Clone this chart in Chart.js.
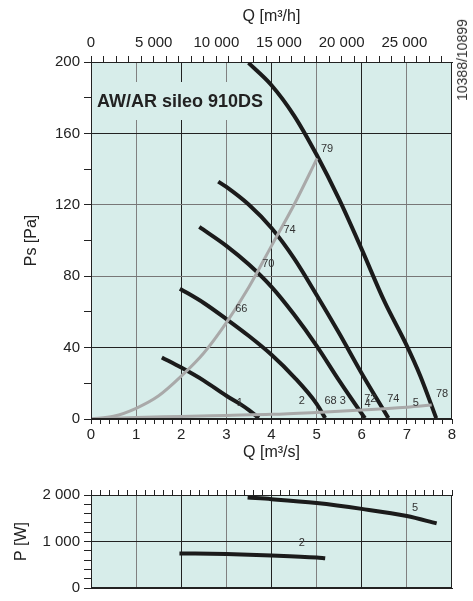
<!DOCTYPE html>
<html>
<head>
<meta charset="utf-8">
<script src="https://cdn.jsdelivr.net/npm/chart.js@4.4.1/dist/chart.umd.min.js"></script>
<style>
  body { margin: 0; background: #fff; width: 473px; height: 601px; position: relative; overflow: hidden; font-family: 'Liberation Sans', Arial, sans-serif; }
  #top { position: absolute; left: 0; top: 0; }
  #bottom { position: absolute; left: 0; top: 470px; }
  #code { position: absolute; left: 462px; top: 60px; transform: translate(-50%, -50%) rotate(-90deg); font-size: 14px; color: #333; white-space: nowrap; }
</style>
</head>
<body>
<canvas id="top" width="473" height="470"></canvas>
<canvas id="bottom" width="473" height="131"></canvas>
<div id="code">10388/10899</div>
<script>
// fan curves, Ps [Pa] against Q [m3/s]
const q1 = [1.57, 2.0, 2.5, 3.0, 3.3, 3.5, 3.72];
const ps1 = [34.5, 28.8, 21.5, 13, 8.5, 5, 0.5];
const q2 = [1.97, 2.5, 3.0, 3.5, 4.0, 4.5, 5.0, 5.19];
const ps2 = [73, 65, 56, 46.5, 36, 23.5, 8.5, 0.5];
const q3 = [2.4, 3.0, 3.5, 4.0, 4.5, 5.0, 5.5, 6.0, 6.07];
const ps3 = [107.6, 97, 86.5, 74, 58.5, 41, 21.5, 3, 0.5];
const q4 = [2.82, 3.0, 3.5, 4.0, 4.5, 5.0, 5.5, 6.0, 6.59];
const ps4 = [133, 130, 120, 107, 90, 69.5, 48, 25.5, 0.5];
const q5 = [3.49, 4.0, 4.5, 5.0, 5.5, 6.0, 6.5, 7.0, 7.3, 7.65];
const ps5 = [199.5, 187, 170, 148, 123, 95, 66, 41, 24, 0.5];

// grey system curves
const qSysHigh = [0, 0.5, 1, 1.5, 2, 2.5, 3, 3.5, 4, 4.5, 5.01];
const psSysHigh = [0, 1.5, 6, 13, 24, 37, 54, 74, 97, 120, 146];
const qSysLow = [0, 1, 2, 3, 4, 5, 6, 7, 7.55];
const psSysLow = [0, 0.9, 1.4, 2, 2.6, 3.7, 5, 6.6, 7.8];

// power curves, P [W]
const qPow2 = [1.96, 3, 4, 5, 5.19];
const pow2 = [744, 729, 700, 656, 640];
const qPow5 = [3.47, 4, 5, 6, 7, 7.66];
const pow5 = [1944, 1910, 1827, 1702, 1548, 1390];

// curve labels
const labelText = ['79', '74', '70', '66', '1', '2', '68 3', '72', '4', '74', '5', '78'];
const labelQ = [5.23, 4.40, 3.93, 3.33, 3.30, 4.67, 5.41, 6.19, 6.13, 6.70, 7.20, 7.78];
const labelPs = [151, 106, 87, 61.5, 9, 10, 10, 11.5, 8.5, 11.5, 9, 14];
const powLabelText = ['5', '2'];
const powLabelQ = [7.18, 4.67];
const powLabelP = [1723, 958];

// top axis in m3/h: a tick every 1 000, a label every 5 000
const flowHourTicks = Array.from({ length: 29 }, (_, i) => i * 1000);
const flowHourMax = 28800;

const title = 'AW/AR sileo 910DS';

Chart.defaults.font.family = "'Liberation Sans', Arial, sans-serif";
Chart.defaults.color = '#222';

const plotBg = '#d7edea';
const dark = '#222';
const grey = '#808080';

const toPts = (xs, ys) => xs.map((x, i) => ({ x: x, y: ys[i] }));
const isWhole = v => Math.abs(v - Math.round(v)) < 1e-6;
const fmt = v => String(v).replace(/\B(?=(\d{3})+(?!\d))/g, ' ');

function gridX(ctx) {
    const v = ctx.tick.value;
    if (!isWhole(v) || v <= 0 || v >= 8) return 'transparent';
    return Math.round(v) % 2 === 1 ? grey : dark;
}

function curve(xs, ys, color, width) {
    return {
        data: toPts(xs, ys),
        borderColor: color,
        borderWidth: width,
        pointRadius: 0,
        tension: 0.4,
        cubicInterpolationMode: 'monotone',
        fill: false
    };
}

const decor = {
    id: 'decor',
    beforeDraw(chart) {
        const a = chart.chartArea, c = chart.ctx;
        c.save();
        c.fillStyle = plotBg;
        c.fillRect(a.left, a.top, a.right - a.left, a.bottom - a.top);
        c.restore();
    },
    beforeDatasetsDraw(chart, args, opts) {
        if (!opts.title) return;
        const a = chart.chartArea, c = chart.ctx;
        c.save();
        c.font = 'bold 18px "Liberation Sans", Arial, sans-serif';
        const w = c.measureText(opts.title).width;
        c.fillStyle = plotBg;
        c.fillRect(a.left + 1, a.top + 20, w + 12, 38);
        c.fillStyle = dark;
        c.textBaseline = 'middle';
        c.fillText(opts.title, a.left + 6, a.top + 40);
        c.restore();
    },
    afterDatasetsDraw(chart, args, opts) {
        const a = chart.chartArea, c = chart.ctx;
        c.save();
        c.strokeStyle = dark;
        c.lineWidth = 1;
        c.strokeRect(a.left + 0.5, a.top + 0.5, a.right - a.left - 1, a.bottom - a.top - 1);
        c.font = '11px "Liberation Sans", Arial, sans-serif';
        c.fillStyle = '#333';
        c.textAlign = 'center';
        c.textBaseline = 'middle';
        const sx = chart.scales.x, sy = chart.scales.y;
        (opts.text || []).forEach((t, i) => {
            c.fillText(t, sx.getPixelForValue(opts.xs[i]), sy.getPixelForValue(opts.ys[i]));
        });
        c.restore();
    }
};

new Chart(document.getElementById('top'), {
    type: 'line',
    data: {
        datasets: [
            curve(qSysLow, psSysLow, '#a9a9a9', 3),
            curve(qSysHigh, psSysHigh, '#a9a9a9', 3),
            curve(q1, ps1, '#1b1b1b', 4),
            curve(q2, ps2, '#1b1b1b', 4),
            curve(q3, ps3, '#1b1b1b', 4),
            curve(q4, ps4, '#1b1b1b', 4),
            curve(q5, ps5, '#1b1b1b', 4)
        ]
    },
    options: {
        responsive: false,
        animation: false,
        layout: { padding: { left: 0, right: 21, top: 0, bottom: 0 } },
        plugins: {
            legend: { display: false },
            tooltip: { enabled: false },
            decor: { title: title, text: labelText, xs: labelQ, ys: labelPs }
        },
        scales: {
            x: {
                type: 'linear', position: 'bottom', min: 0, max: 8,
                ticks: { stepSize: 0.2, autoSkip: false, maxRotation: 0, minRotation: 0, padding: 2,
                    font: { size: 15 }, callback: v => isWhole(v) ? String(Math.round(v)) : '' },
                grid: { color: gridX, tickColor: dark, tickLength: 5 },
                border: { color: dark },
                title: { display: true, text: 'Q [m³/s]', font: { size: 16 }, padding: { top: 0, bottom: 8 } },
                afterFit: s => { s.height = 51; }
            },
            xh: {
                type: 'linear', position: 'top', min: 0, max: flowHourMax,
                afterBuildTicks: s => { s.ticks = flowHourTicks.map(v => ({ value: v })); },
                ticks: { autoSkip: false, maxRotation: 0, minRotation: 0, padding: 4,
                    font: { size: 15 }, callback: v => v % 5000 === 0 ? fmt(v) : '' },
                grid: { drawOnChartArea: false, tickColor: dark, tickLength: 6 },
                border: { color: dark },
                title: { display: true, text: 'Q [m³/h]', font: { size: 16 }, padding: { top: 7, bottom: 0 } },
                afterFit: s => { s.height = 62; }
            },
            y: {
                type: 'linear', min: 0, max: 200,
                ticks: { stepSize: 20, autoSkip: false, padding: 4, font: { size: 15 },
                    callback: v => v % 40 === 0 ? String(v) : '' },
                grid: {
                    color: ctx => {
                        const v = ctx.tick.value;
                        if (v === 40 || v === 160) return dark;
                        if (v === 80 || v === 120) return '#777';
                        return 'transparent';
                    },
                    tickColor: dark, tickLength: 7
                },
                border: { color: dark },
                title: { display: true, text: 'Ps [Pa]', font: { size: 16 }, padding: { top: 22, bottom: 0 } },
                afterFit: s => { s.width = 91; }
            }
        }
    },
    plugins: [decor]
});

new Chart(document.getElementById('bottom'), {
    type: 'line',
    data: {
        datasets: [
            curve(qPow5, pow5, '#1b1b1b', 4),
            curve(qPow2, pow2, '#1b1b1b', 4)
        ]
    },
    options: {
        responsive: false,
        animation: false,
        layout: { padding: { left: 0, right: 21, top: 0, bottom: 0 } },
        plugins: {
            legend: { display: false },
            tooltip: { enabled: false },
            decor: { text: powLabelText, xs: powLabelQ, ys: powLabelP }
        },
        scales: {
            x: {
                type: 'linear', position: 'top', min: 0, max: 8,
                ticks: { stepSize: 0.2, autoSkip: false, maxRotation: 0, minRotation: 0, display: false },
                grid: { color: gridX, tickColor: dark, tickLength: 5 },
                border: { color: dark },
                afterFit: s => { s.height = 25; }
            },
            xb: {
                type: 'linear', position: 'bottom', min: 0, max: 8,
                ticks: { display: false },
                grid: { drawOnChartArea: false, drawTicks: false },
                border: { color: dark },
                afterFit: s => { s.height = 10; }
            },
            y: {
                type: 'linear', min: 0, max: 2000,
                ticks: { stepSize: 200, autoSkip: false, padding: 4, font: { size: 15 },
                    callback: v => v % 1000 === 0 ? fmt(v) : '' },
                grid: { color: ctx => ctx.tick.value === 1000 ? dark : 'transparent', tickColor: dark, tickLength: 7 },
                border: { color: dark },
                title: { display: true, text: 'P [W]', font: { size: 16 }, padding: { top: 12, bottom: 0 } },
                afterFit: s => { s.width = 91; }
            }
        }
    },
    plugins: [decor]
});
</script>
</body>
</html>
